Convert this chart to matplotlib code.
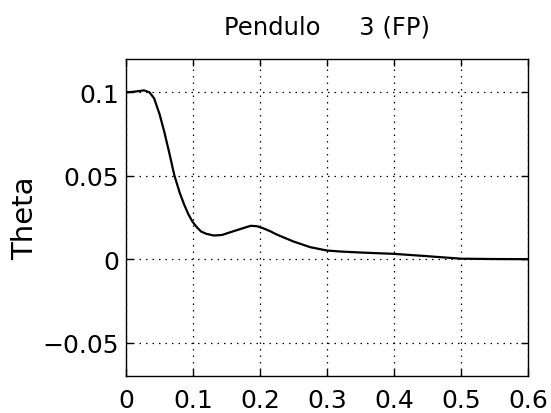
import matplotlib
matplotlib.use('Agg')
import matplotlib.pyplot as plt

# datos
t = [0, 0.01, 0.02, 0.027, 0.035, 0.042, 0.05, 0.057, 0.065, 0.072, 0.08,
     0.087, 0.093, 0.099, 0.106, 0.112, 0.12, 0.131, 0.143, 0.156, 0.17,
     0.186, 0.195, 0.205, 0.215, 0.226, 0.25, 0.275, 0.3, 0.32, 0.35, 0.4,
     0.45, 0.5, 0.55, 0.6]
theta = [0.1, 0.1003, 0.1008, 0.1012, 0.1, 0.0964, 0.087, 0.0765, 0.063,
         0.0505, 0.04, 0.0325, 0.027, 0.0226, 0.019, 0.0166, 0.0152, 0.0142,
         0.0145, 0.0162, 0.018, 0.0200, 0.0198, 0.0185, 0.0168, 0.0146,
         0.0106, 0.0072, 0.0052, 0.0046, 0.004, 0.0032, 0.0018, 0.0003,
         0.0001, 0.0]

xticks = [0, 0.1, 0.2, 0.3, 0.4, 0.5, 0.6]
xticklabels = ['0', '0.1', '0.2', '0.3', '0.4', '0.5', '0.6']
yticks = [-0.05, 0, 0.05, 0.1]
yticklabels = ['\u22120.05', '0', '0.05', '0.1']

fig = plt.figure(figsize=(5.51, 4.14), dpi=100)
ax = fig.add_axes([0.2287, 0.0894, 0.7296, 0.7657])

ax.plot(t, theta, color='black', lw=1.6)

ax.set_xlim(0, 0.6)
ax.set_ylim(-0.07, 0.12)
ax.set_xticks(xticks)
ax.set_xticklabels(xticklabels)
ax.set_yticks(yticks)
ax.set_yticklabels(yticklabels)

ax.grid(True, color='black', linestyle=(0, (1.2, 4)), lw=0.9)
ax.tick_params(direction='in', length=5, width=1, top=True, right=True,
               labelsize=18, colors='black')
ax.tick_params(axis='x', pad=9)
ax.tick_params(axis='y', pad=5)
for s in ax.spines.values():
    s.set_linewidth(1.0)

ax.set_title('Pendulo     3 (FP)', fontsize=17.5, pad=18)
ax.set_ylabel('Theta', fontsize=21)
ax.yaxis.set_label_coords(-0.215, 0.5)

plt.savefig('out.png', dpi=100)
